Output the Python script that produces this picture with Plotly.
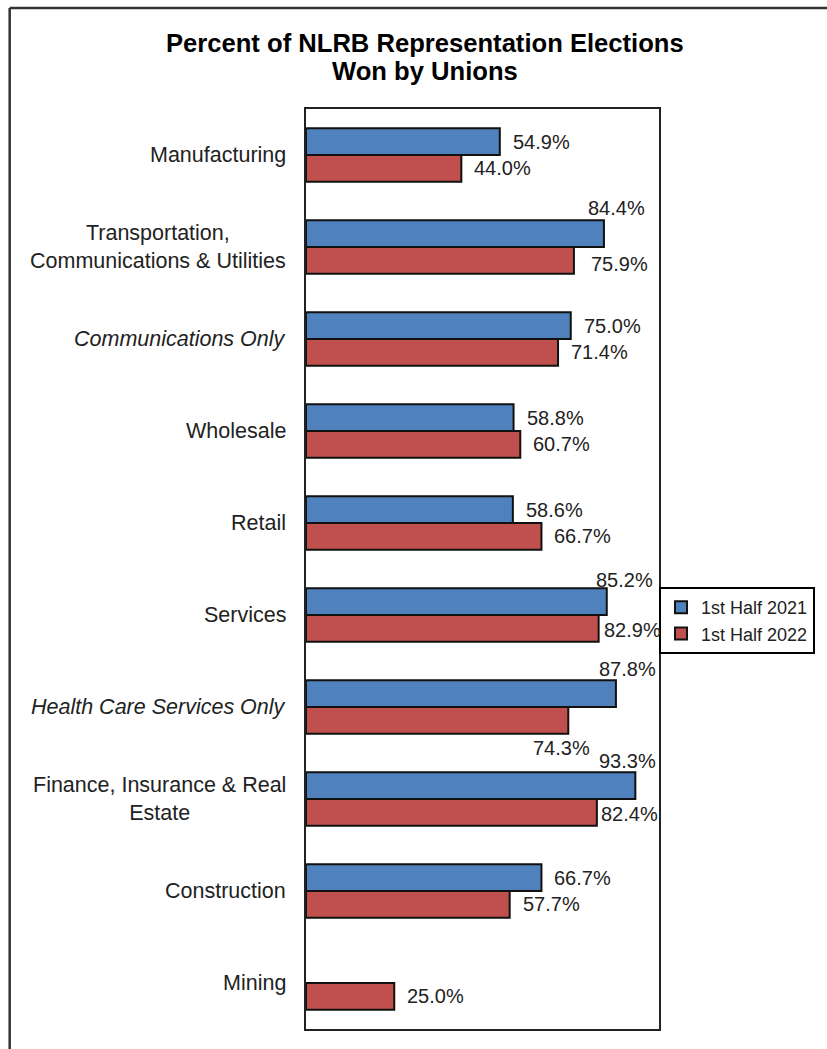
import plotly.graph_objects as go

# Industry categories, top to bottom
categories = [
    "Manufacturing",
    "Transportation,<br>Communications & Utilities",
    "<i>Communications Only</i>",
    "Wholesale",
    "Retail",
    "Services",
    "<i>Health Care Services Only</i>",
    "Finance, Insurance & Real<br>Estate",
    "Construction",
    "Mining",
]
cat_keys = [f"c{i}" for i in range(len(categories))]

series_names = ["1st Half 2021", "1st Half 2022"]
win_2021 = [54.9, 84.4, 75.0, 58.8, 58.6, 85.2, 87.8, 93.3, 66.7, None]
win_2022 = [44.0, 75.9, 71.4, 60.7, 66.7, 82.9, 74.3, 82.4, 57.7, 25.0]

title_lines = ["Percent of NLRB Representation Elections", "Won by Unions"]

COLORS = ["#4F81BD", "#C0504D"]
FONT = "Liberation Sans, Arial, sans-serif"
TXT = "#222222"

# Label placement: (xanchor, xshift, yshift relative to bar centre)
RIGHT = ("left", 11, 0)
placement_2021 = [RIGHT, ("center", 13, 26), RIGHT, RIGHT, RIGHT,
                  ("center", 18, 22), ("center", 12, 25), ("center", -8, 25), RIGHT, None]
placement_2022 = [RIGHT, ("left", 15, -4), RIGHT, RIGHT, RIGHT,
                  ("left", 3, -2), ("center", -7, -28), ("left", 2, -2), RIGHT, RIGHT]

fig = go.Figure()
for name, vals, color in zip(series_names, [win_2021, win_2022], COLORS):
    fig.add_trace(go.Bar(
        y=cat_keys, x=vals, name=name, orientation="h",
        marker=dict(color=color, line=dict(color="#111111", width=2)),
        hoverinfo="x+name",
    ))

BAR_HALF = 13.3  # half the pixel height of one bar
annotations = []
for vals, places, sign in [(win_2021, placement_2021, 1), (win_2022, placement_2022, -1)]:
    for key, v, p in zip(cat_keys, vals, places):
        if v is None or p is None:
            continue
        xa, xs, ys = p
        annotations.append(dict(
            x=v, y=key, xref="x", yref="y", text=f"{v:.1f}%", showarrow=False,
            xanchor=xa, yanchor="middle", xshift=xs, yshift=sign * BAR_HALF + ys,
            font=dict(family=FONT, size=20, color=TXT),
        ))

# Category labels, centred lines, right-aligned against the plot frame
for key, label in zip(cat_keys, categories):
    annotations.append(dict(
        x=0, y=key, xref="paper", yref="y", text=label, showarrow=False,
        xanchor="right", yanchor="middle", xshift=-18, align="center",
        font=dict(family=FONT, size=21.5, color=TXT),
    ))

# Plot-area pixel geometry
L, R, B, T = 306, 661, 1029, 109
W, H = 827, 1049
def px(xp):
    return (xp - L) / (R - L)
def py(yp):
    return (B - yp) / (B - T)

# Two-line bold title
for line, yp in zip(title_lines, [43, 71]):
    annotations.append(dict(
        x=px(425.5), y=py(yp), xref="paper", yref="paper", text=f"<b>{line}</b>",
        showarrow=False, xanchor="center", yanchor="middle",
        font=dict(family=FONT, size=25.6, color="#000000"),
    ))

# Outer frame (top and left edges)
shapes = [
    dict(type="line", xref="paper", yref="paper", x0=px(8), x1=px(W + 5), y0=py(8), y1=py(8),
         line=dict(color="#333333", width=2.5)),
    dict(type="line", xref="paper", yref="paper", x0=px(8), x1=px(8), y0=py(8), y1=py(H + 5),
         line=dict(color="#333333", width=2.5)),
]

fig.update_layout(
    width=W, height=H,
    margin=dict(l=L, r=W - R, t=T, b=H - B, pad=0),
    paper_bgcolor="white", plot_bgcolor="white",
    barmode="group", bargap=0.42, bargroupgap=0,
    xaxis=dict(range=[0, 100], showgrid=False, zeroline=False, showticklabels=False,
               ticks="", showline=True, linecolor="#222222", linewidth=2, mirror=True,
               fixedrange=True),
    yaxis=dict(categoryorder="array", categoryarray=cat_keys, autorange="reversed",
               showgrid=False, zeroline=False, showticklabels=False, ticks="",
               showline=True, linecolor="#222222", linewidth=2, mirror=True),
    legend=dict(x=1, xanchor="left", y=py(587), yanchor="top",
                bordercolor="#000000", borderwidth=2, bgcolor="white",
                font=dict(family=FONT, size=18, color=TXT),
                traceorder="normal", itemsizing="constant",
                tracegroupgap=6),
    showlegend=True,
    annotations=annotations,
    shapes=shapes,
)

fig.write_html("out.html")
